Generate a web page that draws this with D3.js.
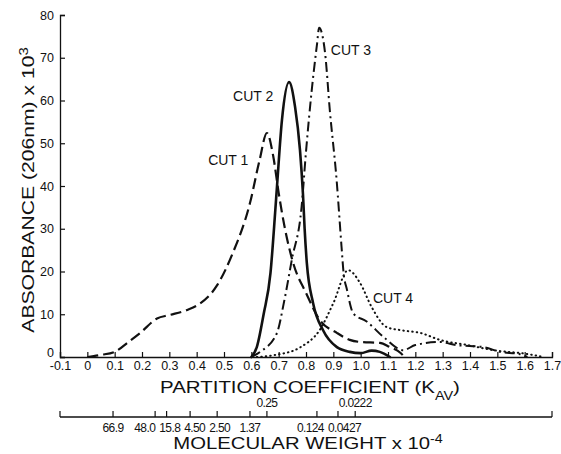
<!DOCTYPE html>
<html>
<head>
<meta charset="utf-8">
<script src="https://cdn.jsdelivr.net/npm/d3@7"></script>
<style>
    body { margin: 0; background: #fff; }
    text { font-family: "Liberation Sans", Arial, sans-serif; fill: #111; }
</style>
</head>
<body>
<div id="chart"></div>
<script>
// partition coefficient (Kav) vs absorbance x 10^3
const cut1 = [[0, 0], [0.05, 0.5], [0.1, 1.2], [0.15, 3.5], [0.193, 5.6], [0.255, 9], [0.3, 9.8],
    [0.365, 11], [0.405, 12.2], [0.475, 16.8], [0.53, 24], [0.595, 36], [0.63, 46], [0.657, 52.4],
    [0.68, 47], [0.70, 38.4], [0.72, 31], [0.753, 22], [0.80, 15], [0.85, 8.7], [0.914, 5.6],
    [0.96, 4], [1.0, 3.5], [1.07, 3.3], [1.107, 2.3], [1.145, 1], [1.16, 0]];
const cut2 = [[0.6, 0], [0.62, 2.3], [0.645, 10], [0.67, 19.6], [0.687, 33.7], [0.694, 40],
    [0.712, 55.4], [0.738, 64.3], [0.76, 58.5], [0.778, 48.4], [0.789, 38], [0.795, 30],
    [0.803, 22], [0.826, 12.6], [0.862, 6.3], [0.913, 2.3], [0.96, 1.2], [1.0, 0.9],
    [1.04, 1.5], [1.07, 1.2], [1.107, 0]];
const cut3 = [[0.6, 0], [0.632, 1.2], [0.693, 5.5], [0.72, 13], [0.748, 22.7], [0.784, 35.2],
    [0.80, 48], [0.82, 61.8], [0.84, 73], [0.848, 77], [0.87, 71], [0.887, 57.8], [0.912, 41.4],
    [0.93, 25.8], [0.937, 20], [0.95, 15.7], [0.973, 10.2], [1.022, 8.3], [1.083, 4.7],
    [1.156, 1.6], [1.2, 2.8], [1.29, 3.5], [1.35, 2.8], [1.45, 2.3], [1.51, 1.2], [1.58, 0.7], [1.61, 0]];
const cut4 = [[0.62, 0], [0.69, 0.5], [0.78, 2.3], [0.85, 6.3], [0.9, 12.6], [0.954, 20.3],
    [0.998, 17.3], [1.04, 11.7], [1.095, 7], [1.144, 6.3], [1.22, 5.6], [1.29, 4], [1.39, 2.8],
    [1.485, 1.6], [1.61, 0.7], [1.67, 0]];

const cutNames = ["CUT 1", "CUT 2", "CUT 3", "CUT 4"];
// label anchor (Kav, absorbance) for each cut
const cutLabelAt = [[0.442, 44.9], [0.533, 59.9], [0.891, 70.6], [1.045, 12.6]];

const kavTicks = d3.range(-0.1, 1.71, 0.1).map(d => Math.round(d * 10) / 10);
const absTicks = d3.range(0, 81, 10);

// molecular weight scale: Kav position and label
const mwKav = [0.094, 0.248, 0.29, 0.376, 0.475, 0.595, 0.657, 0.84, 0.917, 0.98];
const mwLabels = ["66.9", "48.0", "15.8", "4.50", "2.50", "1.37", "0.25", "0.124", "0.0427", "0.0222"];
const mwAbove = [false, false, false, false, false, false, true, false, false, true];

const margin = { top: 15, right: 9, bottom: 97, left: 60 };
const width = 561 - margin.left - margin.right;
const height = 454 - margin.top - margin.bottom;

const svg = d3.select("#chart").append("svg")
    .attr("width", 561)
    .attr("height", 454)
    .append("g")
    .attr("transform", `translate(${margin.left},${margin.top})`);

const x = d3.scaleLinear().domain([-0.1, 1.7]).range([0, width]);
const y = d3.scaleLinear().domain([0, 80]).range([height, 0]);

// axes
const xAxis = svg.append("g")
    .attr("transform", `translate(0,${height})`)
    .call(d3.axisBottom(x).tickValues(kavTicks).tickSize(-5).tickPadding(4)
        .tickFormat(d => d === 0 ? "0" : d.toFixed(1)));
const yAxis = svg.append("g")
    .call(d3.axisLeft(y).tickValues(absTicks).tickSize(-5).tickPadding(6));

[xAxis, yAxis].forEach(g => {
    g.select(".domain").attr("stroke", "#111").attr("stroke-width", 1.3);
    g.selectAll(".tick line").attr("stroke", "#111").attr("stroke-width", 1.2);
    g.selectAll("text").style("font-size", "12.5px").attr("fill", "#111");
});
yAxis.selectAll(".tick").filter(d => d === 0).select("text").attr("dy", "-0.05em");

// molecular weight axis
const mwY = height + 60;
const mwG = svg.append("g").attr("transform", `translate(0,${mwY})`);
mwG.append("line")
    .attr("x1", 0).attr("x2", width)
    .attr("stroke", "#111").attr("stroke-width", 1.3);
mwG.selectAll(".mwtick")
    .data(mwKav)
    .join("line")
    .attr("class", "mwtick")
    .attr("x1", d => x(d)).attr("x2", d => x(d))
    .attr("y1", 0).attr("y2", -6)
    .attr("stroke", "#111").attr("stroke-width", 1.2);
[0, width].forEach(px => mwG.append("line")
    .attr("x1", px).attr("x2", px).attr("y1", 0).attr("y2", -6)
    .attr("stroke", "#111").attr("stroke-width", 1.2));

const mwText = mwG.selectAll(".mwlabel")
    .data(mwLabels.map((t, i) => ({ t, k: mwKav[i], above: mwAbove[i] })))
    .join("text")
    .attr("class", "mwlabel")
    .attr("text-anchor", "middle")
    .attr("y", d => d.above ? -10 : 15)
    .style("font-size", "12px")
    .style("letter-spacing", "-0.6px")
    .text(d => d.t);

// spread the crowded labels below the line so they don't overlap
const below = [];
mwText.each(function (d) {
    if (!d.above) below.push({ d, el: this, w: this.getComputedTextLength(), cx: x(d.k) });
});
for (let it = 0; it < 80; it++) {
    for (let i = 1; i < below.length; i++) {
        const a = below[i - 1], b = below[i];
        const need = (a.w + b.w) / 2 + 4;
        const gap = b.cx - a.cx;
        if (gap < need) {
            const push = (need - gap) / 2;
            a.cx -= push;
            b.cx += push;
        }
    }
}
below.forEach(o => d3.select(o.el).attr("x", o.cx));
mwText.filter(d => d.above).attr("x", d => x(d.k));

// curves
const line = d3.line()
    .x(d => x(d[0]))
    .y(d => y(d[1]))
    .curve(d3.curveMonotoneX);

const styles = [
    { data: cut1, w: 2.2, dash: "11,5", cap: "butt" },
    { data: cut2, w: 2.6, dash: null, cap: "round" },
    { data: cut3, w: 2, dash: "10,4,2,4", cap: "butt" },
    { data: cut4, w: 2, dash: "0.5,4", cap: "round" }
];

svg.selectAll(".cut")
    .data(styles)
    .join("path")
    .attr("class", "cut")
    .attr("fill", "none")
    .attr("stroke", "#111")
    .attr("stroke-width", d => d.w)
    .attr("stroke-linecap", d => d.cap)
    .attr("stroke-dasharray", d => d.dash)
    .attr("d", d => line(d.data));

svg.selectAll(".cutlabel")
    .data(cutNames)
    .join("text")
    .attr("class", "cutlabel")
    .attr("x", (d, i) => x(cutLabelAt[i][0]))
    .attr("y", (d, i) => y(cutLabelAt[i][1]))
    .style("font-size", "14px")
    .text(d => d);

// titles, stretched to the width used in the figure
function title(parts, cx, cy, target, rotate) {
    const t = svg.append("text")
        .attr("text-anchor", "middle")
        .attr("y", 6)
        .style("font-size", "17px");
    parts.forEach(p => {
        const s = t.append("tspan").text(p.text);
        if (p.shift) s.attr("baseline-shift", p.shift).style("font-size", p.size);
    });
    const w = t.node().getBBox().width;
    t.attr("transform", `translate(${cx},${cy})${rotate ? " rotate(-90)" : ""} scale(${target / w},1)`);
}

title([{ text: "PARTITION COEFFICIENT (K" }, { text: "AV", shift: "sub", size: "12px" }, { text: ")" }],
    310 - margin.left, 387 - margin.top, 300, false);
title([{ text: "MOLECULAR WEIGHT x 10" }, { text: "-4", shift: "super", size: "12px" }],
    308 - margin.left, 443 - margin.top, 270, false);
title([{ text: "ABSORBANCE (206nm) x 10" }, { text: "3", shift: "super", size: "12px" }],
    28 - margin.left, 190 - margin.top, 286, true);
</script>
</body>
</html>
